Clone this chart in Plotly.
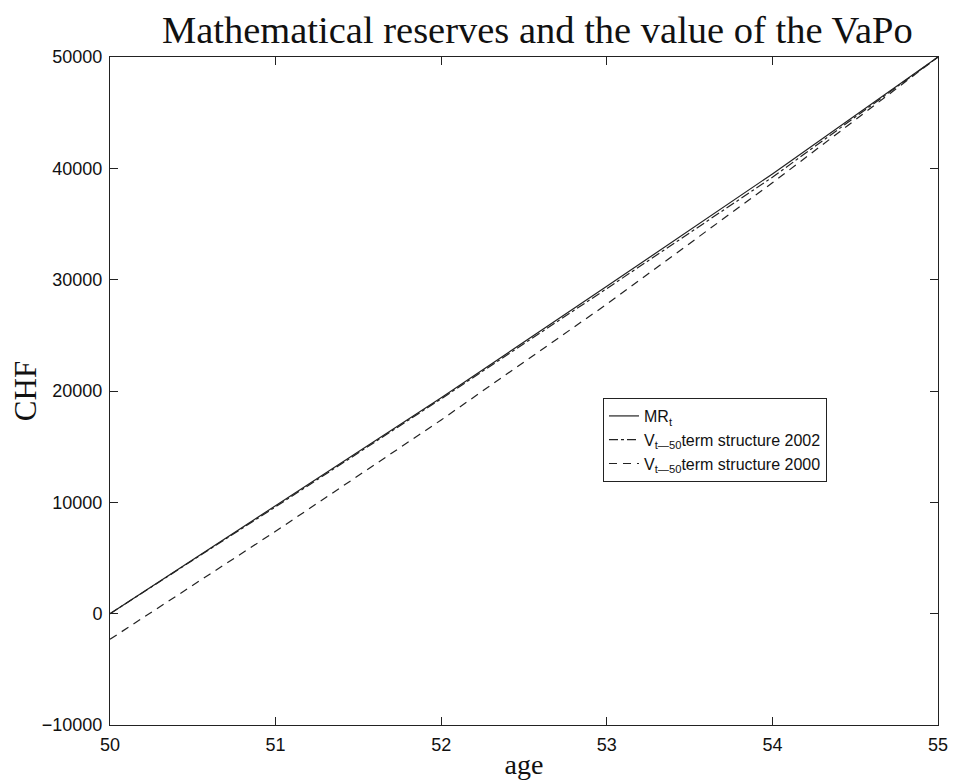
import plotly.graph_objects as go

age = [50, 51, 52, 53, 54, 55]
mr = [0, 9700, 19400, 29400, 39500, 50000]
v2002 = [0, 9600, 19300, 29200, 39200, 50000]
v2000 = [-2300, 7400, 17400, 27800, 38700, 50000]

y_tickvals = [-10000, 0, 10000, 20000, 30000, 40000, 50000]
y_ticktext = ["−10000", "0", "10000", "20000", "30000", "40000", "50000"]
x_tickvals = [50, 51, 52, 53, 54, 55]

fig = go.Figure()
fig.add_trace(go.Scatter(x=age, y=mr, mode="lines", name="MR<sub>t</sub>",
                         line=dict(color="#222", width=1.2, dash="solid")))
fig.add_trace(go.Scatter(x=age, y=v2002, mode="lines", name="V<sub>t—50</sub>term structure 2002",
                         line=dict(color="#222", width=1.2, dash="dashdot")))
fig.add_trace(go.Scatter(x=age, y=v2000, mode="lines", name="V<sub>t—50</sub>term structure 2000",
                         line=dict(color="#222", width=1.2, dash="8px,6px")))

fig.update_layout(
    width=959, height=781,
    margin=dict(l=102, r=29, t=49, b=64),
    paper_bgcolor="white", plot_bgcolor="white",
    title=dict(text="Mathematical reserves and the value of the VaPo",
               font=dict(family="Liberation Serif", size=38.5, color="#111"),
               x=0.552, xanchor="center", y=0.972, yanchor="middle"),
    font=dict(family="Liberation Sans", size=18, color="#111"),
    legend=dict(x=0.5954, y=0.4895, xanchor="left", yanchor="top",
                bordercolor="#222", borderwidth=1, bgcolor="white",
                font=dict(family="Liberation Sans", size=16, color="#111"),
                tracegroupgap=0, itemwidth=30),
    showlegend=True,
)
fig.update_xaxes(range=[50, 55], tickvals=x_tickvals, ticks="inside", ticklen=8,
                 tickcolor="#222", showline=True, linecolor="#222", linewidth=1,
                 mirror="ticks", showgrid=False, zeroline=False, automargin=False,
                 ticklabelstandoff=3,
                 title=dict(text="age", font=dict(family="Liberation Serif", size=28, color="#111"),
                            standoff=0),
                 tickfont=dict(size=18))
fig.update_yaxes(range=[-10000, 50000], tickvals=y_tickvals, ticktext=y_ticktext,
                 ticks="inside", ticklen=8, tickcolor="#222", showline=True,
                 linecolor="#222", linewidth=1, mirror="ticks", showgrid=False,
                 zeroline=False, automargin=False, ticklabelstandoff=3,
                 title=dict(text="CHF", font=dict(family="Liberation Serif", size=31, color="#111"),
                            standoff=12),
                 tickfont=dict(size=18))

fig.write_html("out.html")
